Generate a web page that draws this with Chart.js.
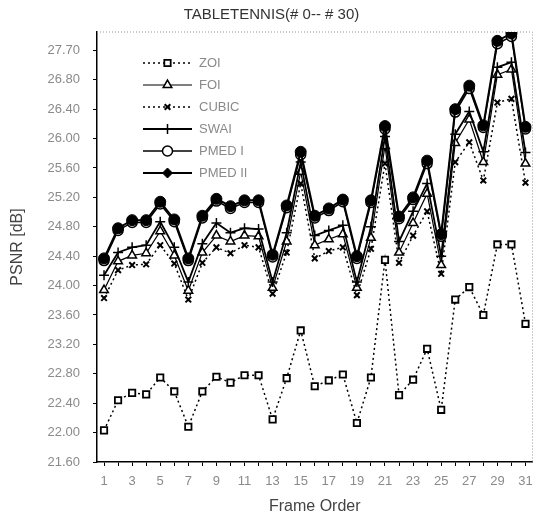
<!DOCTYPE html>
<html>
<head>
<meta charset="utf-8">
<script src="https://cdn.jsdelivr.net/npm/chart.js@4/dist/chart.umd.min.js"></script>
<style>
  html, body { margin: 0; padding: 0; background: #fff; }
  #wrap { width: 539px; height: 516px; }
</style>
</head>
<body>
<div id="wrap"><canvas id="psnrChart" width="539" height="516"></canvas></div>
<script>
// frame numbers on the x axis
const frames = [1,2,3,4,5,6,7,8,9,10,11,12,13,14,15,16,17,18,19,20,21,22,23,24,25,26,27,28,29,30,31];

// y ticks (labels copied as printed in the figure)
const yTickValues = [21.6,22.0,22.4,22.8,23.2,23.6,24.0,24.4,24.8,25.2,25.6,26.0,26.4,26.8,27.2];
const yTickLabels = ["21.60","22.00","22.40","22.80","23.20","23.60","24.00","24.40","24.80","25.20","25.60","26.00","26.40","26.80","27.70"];

// PSNR per frame
const zoi    = [22.03,22.44,22.54,22.52,22.75,22.56,22.08,22.56,22.76,22.68,22.78,22.78,22.18,22.74,23.39,22.63,22.71,22.79,22.13,22.75,24.35,22.51,22.72,23.14,22.31,23.81,23.98,23.60,24.56,24.56,23.48];
const foi    = [23.94,24.33,24.41,24.44,24.74,24.41,23.93,24.45,24.68,24.60,24.68,24.67,23.97,24.60,25.55,24.55,24.63,24.70,23.97,24.65,25.90,24.45,24.85,25.25,24.28,25.94,26.26,25.68,26.87,26.94,25.66];
const cubic  = [23.83,24.21,24.28,24.29,24.55,24.30,23.81,24.31,24.52,24.44,24.55,24.52,23.89,24.45,25.39,24.37,24.47,24.52,23.87,24.50,25.66,24.31,24.68,25.01,24.16,25.68,25.95,25.43,26.49,26.54,25.40];
const swai   = [24.14,24.45,24.52,24.55,24.87,24.52,24.05,24.57,24.85,24.72,24.78,24.77,24.05,24.72,25.68,24.68,24.75,24.82,24.05,24.80,26.03,24.60,25.01,25.39,24.40,26.06,26.37,25.82,26.97,27.04,25.81];
const pmed1  = [24.34,24.75,24.86,24.86,25.11,24.87,24.34,24.92,25.15,25.05,25.13,25.13,24.39,25.06,25.78,24.92,25.02,25.14,24.37,25.13,26.13,24.91,25.17,25.66,24.67,26.36,26.68,26.15,27.29,27.39,26.13];
const pmed2  = [24.37,24.78,24.89,24.89,25.14,24.90,24.37,24.95,25.18,25.08,25.16,25.16,24.42,25.09,25.82,24.95,25.05,25.17,24.40,25.16,26.17,24.94,25.20,25.70,24.70,26.40,26.72,26.18,27.33,27.43,26.16];

const seriesNames = ["ZOI","FOI","CUBIC","SWAI","PMED I","PMED II"];

const tickFont = { family: "Liberation Sans", size: 13 };
const tickColor = "#8a8a8a";

const datasets = [
  { label: seriesNames[0], data: zoi, borderColor: "#000", borderWidth: 1.5, borderDash: [2, 3],
    pointStyle: "rect", pointRadius: 4.5, pointBorderWidth: 1.8, pointBackgroundColor: "#fff", order: 5 },
  { label: seriesNames[1], data: foi, borderColor: "#000", borderWidth: 1.2,
    pointStyle: "triangle", pointRadius: 5, pointBorderWidth: 1.5, pointBackgroundColor: "#fff", order: 3 },
  { label: seriesNames[2], data: cubic, borderColor: "#000", borderWidth: 1.5, borderDash: [2, 3],
    pointStyle: "crossRot", pointRadius: 4, pointBorderWidth: 2, pointBackgroundColor: "#fff", order: 4 },
  { label: seriesNames[3], data: swai, borderColor: "#000", borderWidth: 1.8,
    pointStyle: "cross", pointRadius: 5, pointBorderWidth: 1.5, pointBackgroundColor: "#fff", order: 2 },
  { label: seriesNames[4], data: pmed1, borderColor: "#000", borderWidth: 1.5,
    pointStyle: "circle", pointRadius: 5, pointBorderWidth: 1.5, pointBackgroundColor: "#fff", order: 1 },
  { label: seriesNames[5], data: pmed2, borderColor: "#000", borderWidth: 2,
    pointStyle: "circle", pointRadius: 5.5, pointBorderWidth: 1, pointBackgroundColor: "#000", order: 0 },
];
datasets.forEach(d => { d.tension = 0; d.fill = false; d.pointBorderColor = "#000"; });

// legend drawn inside the plot, top-left, one row per series
const legendMarkers = ["rect", "triangle", "crossRot", "cross", "circle", "rectRot"];
const insideLegend = {
  id: "insideLegend",
  afterDraw(chart) {
    const ctx = chart.ctx;
    const x0 = 143, x1 = 192, yStart = 63, step = 22;
    chart.data.datasets.forEach((ds, i) => {
      const y = yStart + i * step;
      ctx.save();
      ctx.strokeStyle = "#000";
      ctx.lineWidth = ds.borderWidth;
      ctx.setLineDash(ds.borderDash || []);
      ctx.beginPath();
      ctx.moveTo(x0, y);
      ctx.lineTo(x1, y);
      ctx.stroke();
      ctx.setLineDash([]);
      ctx.fillStyle = ds.pointBackgroundColor;
      ctx.lineWidth = ds.pointBorderWidth;
      Chart.helpers.drawPoint(ctx, {
        pointStyle: legendMarkers[i], radius: i === 5 ? 5 : ds.pointRadius,
        borderWidth: ds.pointBorderWidth, rotation: 0
      }, (x0 + x1) / 2, y);
      ctx.fillStyle = tickColor;
      ctx.font = "13px 'Liberation Sans'";
      ctx.textBaseline = "middle";
      ctx.fillText(ds.label, x1 + 7, y);
      ctx.restore();
    });
  }
};

// frame: solid left/bottom, dotted grey top/right
const plotFrame = {
  id: "plotFrame",
  beforeDatasetsDraw(chart) {
    const { ctx, chartArea: a } = chart;
    ctx.save();
    ctx.strokeStyle = "#999";
    ctx.lineWidth = 1;
    ctx.setLineDash([1, 2]);
    ctx.beginPath();
    ctx.moveTo(a.left, a.top);
    ctx.lineTo(a.right, a.top);
    ctx.lineTo(a.right, a.bottom);
    ctx.stroke();
    ctx.restore();
  }
};

new Chart(document.getElementById("psnrChart"), {
  type: "line",
  data: { labels: frames, datasets },
  options: {
    responsive: false,
    animation: false,
    layout: { padding: { left: 0, right: -4, top: 0, bottom: 0 } },
    plugins: {
      legend: { display: false },
      tooltip: { enabled: false },
      title: {
        display: true,
        text: "TABLETENNIS(# 0-- # 30)",
        color: "#333",
        font: { family: "Liberation Sans", size: 15, weight: "normal" },
        padding: { top: 6, bottom: 8 },
      },
    },
    scales: {
      x: {
        type: "category",
        offset: true,
        border: { display: true, color: "#000", width: 1.5 },
        grid: { display: true, drawOnChartArea: false, tickLength: 4, color: "#000" },
        ticks: {
          autoSkip: false, maxRotation: 0, padding: 8, color: tickColor, font: tickFont,
          callback: (v, i) => (frames[i] % 2 === 1 ? String(frames[i]) : ""),
        },
        title: { display: true, text: "Frame Order", color: "#444",
                 font: { family: "Liberation Sans", size: 16 }, padding: { top: 4, bottom: 0 } },
        afterFit: s => { s.height = 54; s.paddingLeft = 0; s.paddingRight = 0; },
      },
      y: {
        min: 21.6,
        max: 27.45,
        border: { display: true, color: "#000", width: 1.5 },
        grid: { display: true, drawOnChartArea: false, tickLength: 4, color: "#000" },
        afterBuildTicks: s => { s.ticks = yTickValues.map(v => ({ value: v })); },
        ticks: {
          padding: 13, color: tickColor, font: tickFont,
          callback: (v, i) => yTickLabels[i],
        },
        title: { display: true, text: "PSNR [dB]", color: "#444",
                 font: { family: "Liberation Sans", size: 16 }, padding: { top: 8, bottom: 0 } },
        afterFit: s => { s.width = 97; },
      },
    },
  },
  plugins: [plotFrame, insideLegend],
});
</script>
</body>
</html>
